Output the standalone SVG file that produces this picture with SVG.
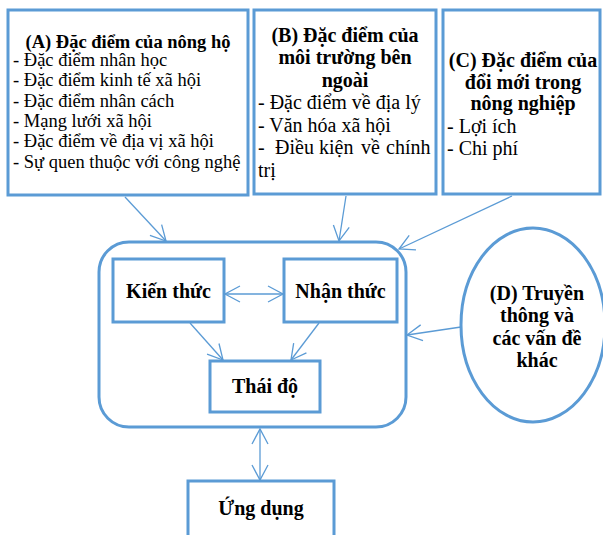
<svg xmlns="http://www.w3.org/2000/svg" width="603" height="535" viewBox="0 0 603 535" font-family="'Liberation Serif', 'DejaVu Serif', serif">
<style>
.box{fill:#fff;stroke:#5B9BD5;stroke-width:3}
.ln{fill:none;stroke:#5B9BD5;stroke-width:1.3}
text{font-family:'Liberation Serif','DejaVu Serif',serif;fill:#000}
.b{font-weight:bold}
.t20{font-size:20px}
.a{font-size:18.5px}
.c{text-anchor:middle}
</style>
<defs>
<marker id="ah" markerUnits="userSpaceOnUse" markerWidth="20" markerHeight="20" refX="16" refY="9" orient="auto-start-reverse">
<path d="M1,1 L16,9 L1,17" fill="none" stroke="#5B9BD5" stroke-width="1.3"/>
</marker>
</defs>
<rect width="603" height="535" fill="#fff"/>
<g id="nodeA">
<rect class="box" x="8" y="10" width="240" height="185"/>
<text class="b a c" x="128" y="47.5">(A) Đặc điểm của nông hộ</text>
<text class="a" x="13" y="66">- Đặc điểm nhân học</text>
<text class="a" x="13" y="86.3">- Đặc điểm kinh tế xã hội</text>
<text class="a" x="13" y="106.6">- Đặc điểm nhân cách</text>
<text class="a" x="13" y="127">- Mạng lưới xã hội</text>
<text class="a" x="13" y="147.3">- Đặc điểm về địa vị xã hội</text>
<text class="a" x="13" y="167.6">- Sự quen thuộc với công nghệ</text>
</g>
<g id="nodeB">
<rect class="box" x="254" y="10" width="182" height="184"/>
<text class="b t20 c" x="345" y="41.5">(B) Đặc điểm của</text>
<text class="b t20 c" x="345" y="64">môi trường bên</text>
<text class="b t20 c" x="345" y="86.5">ngoài</text>
<text class="t20" x="258" y="109">- Đặc điểm về địa lý</text>
<text class="t20" x="258" y="131.5">- Văn hóa xã hội</text>
<text class="t20" x="258" y="154">- <tspan x="275">Điều</tspan><tspan x="319">kiện</tspan><tspan x="361">về</tspan><tspan x="386">chính</tspan></text>
<text class="t20" x="258" y="176.5">trị</text>
</g>
<g id="nodeC">
<rect class="box" x="443" y="10" width="157" height="184"/>
<text class="b t20 c" x="523" y="67">(C) Đặc điểm của</text>
<text class="b t20 c" x="523" y="88.5">đổi mới trong</text>
<text class="b t20 c" x="523" y="110">nông nghiệp</text>
<text class="t20" x="447" y="133">- Lợi ích</text>
<text class="t20" x="447" y="155">- Chi phí</text>
</g>
<g id="nodeD">
<ellipse cx="533" cy="325" rx="72" ry="97" fill="#fff" stroke="#5B9BD5" stroke-width="3"/>
<text class="b t20 c" x="537" y="299.5">(D) Truyền</text>
<text class="b t20 c" x="537" y="322">thông và</text>
<text class="b t20 c" x="537" y="344.5">các vấn đề</text>
<text class="b t20 c" x="537" y="367">khác</text>
</g>
<g id="group">
<rect x="99" y="242" width="307" height="185" rx="30" ry="30" fill="none" stroke="#5B9BD5" stroke-width="3"/>
</g>
<g id="kienthuc">
<rect class="box" x="113" y="259" width="111" height="63"/>
<text class="b t20 c" x="168.5" y="298">Kiến thức</text>
</g>
<g id="nhanthuc">
<rect class="box" x="284" y="259" width="113" height="63"/>
<text class="b t20 c" x="340.5" y="298">Nhận thức</text>
</g>
<g id="thaido">
<rect class="box" x="210" y="361" width="110" height="51"/>
<text class="b t20 c" x="265" y="393">Thái độ</text>
</g>
<g id="ungdung">
<rect class="box" x="188" y="481" width="146" height="60"/>
<text class="b t20 c" x="261" y="515">Ứng dụng</text>
</g>
<g id="connectors">
<line class="ln" x1="125" y1="197" x2="166" y2="241" marker-end="url(#ah)"/>
<line class="ln" x1="346" y1="196" x2="339" y2="241" marker-end="url(#ah)"/>
<line class="ln" x1="512" y1="196" x2="399" y2="249" marker-end="url(#ah)"/>
<line class="ln" x1="461" y1="327" x2="407" y2="335" marker-end="url(#ah)"/>
<line class="ln" x1="225" y1="294" x2="283" y2="294" marker-start="url(#ah)" marker-end="url(#ah)"/>
<line class="ln" x1="190" y1="323" x2="223" y2="360" marker-end="url(#ah)"/>
<line class="ln" x1="319" y1="323" x2="291" y2="360" marker-end="url(#ah)"/>
<line class="ln" x1="260" y1="429" x2="260" y2="480" marker-start="url(#ah)" marker-end="url(#ah)"/>
</g>
</svg>
